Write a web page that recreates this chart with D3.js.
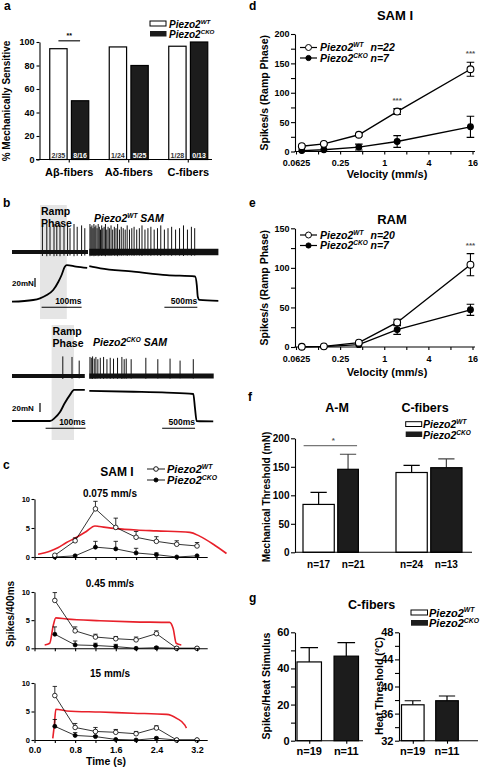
<!DOCTYPE html>
<html>
<head>
<meta charset="utf-8">
<script src="https://cdn.jsdelivr.net/npm/d3@7/dist/d3.min.js"></script>
<style>
html,body{margin:0;padding:0;background:#fff;}
svg{display:block;}
</style>
</head>
<body>
<script>
// ================= DATA =================
// panel a
const fiberTypes = ["Aβ-fibers", "Aδ-fibers", "C-fibers"];
const genotypes = ["WT", "CKO"];
const pctSensitiveWT = [94.3, 95.8, 96.4];
const pctSensitiveCKO = [50, 80, 100];
const insensitiveWT = ["2/35", "1/24", "1/28"];
const insensitiveCKO = ["8/16", "5/25", "0/13"];
const pctTicks = [0, 20, 40, 60, 80, 100];

// panel b (time in ms, force in mN, spike amplitude relative)
const wtRampPhase = [70, 137];
const wtRampSpikes = [[76,0.95],[87,1.0],[95,0.9],[105,1.0],[112,0.95],[120,1.0],[130,0.9],[139,0.95],[145,0.85],[155,1.0],[163,0.9],[174,0.95],[182,0.85]];
const wtHoldSpikes = [[10,1.0],[25,0.9],[40,0.95],[55,0.85],[70,1.0],[85,0.9],[100,0.95],[118,0.85],[135,1.0],[152,0.9],[170,0.8],[188,0.95],[205,0.85],[225,0.9],[245,1.0],[265,0.8],[285,0.9],[305,0.85],[330,0.95],[355,0.8],[380,0.9],[405,0.85],[430,1.0],[458,0.8],[485,0.9],[515,0.85],[545,0.8],[575,0.95],[610,0.8],[645,0.85],[680,0.9],[720,0.8],[760,0.85],[800,0.95],[845,0.8],[890,0.85],[935,0.9],[985,0.8],[1035,0.85],[1085,0.95],[1140,0.8],[1195,0.85],[1250,0.9],[1310,0.8],[1370,0.85],[1430,0.95],[1490,0.8],[1550,0.9],[1600,0.85]];
const wtRampForce = [[0,0],[53,3.8],[70,7.5],[87,14.9],[103,25.9],[116,44.4],[124,59.3],[132,77.8],[137,81.5],[160,78],[188,75]];
const wtHoldForce = [[0,79],[167,74],[671,67],[1177,59],[1606,56],[1632,37],[1647,11],[1671,4],[1959,2]];

const ckoRampPhase = [99, 155];
const ckoRampSpikes = [[127,0.7],[150,0.68],[168,0.55]];
const ckoHoldSpikes = [[10,0.68],[30,0.65],[50,0.7],[75,0.62],[100,0.68],[130,0.6],[167,0.65],[217,0.68],[268,0.6],[318,0.65],[368,0.62],[429,0.65],[495,0.68],[530,0.6],[561,0.62],[636,0.6],[859,0.65],[1041,0.6],[1227,0.62],[1379,0.55],[1580,0.6]];
const ckoRampForce = [[0,0],[95,0],[107,7],[120,20],[132,40],[145,58],[155,69],[182,69]];
const ckoHoldForce = [[0,67],[671,65],[1177,63],[1580,60],[1606,28],[1631,0],[1883,-1]];

// panel c (time bins in s, spikes per 400 ms)
const binTimes = [0.4, 0.8, 1.2, 1.6, 2.0, 2.4, 2.8, 3.2];
const velLabels = ["0.075 mm/s", "0.45 mm/s", "15 mm/s"];
const binWT075 = [0.3, 2.8, 8.3, 5.1, 3.4, 2.7, 2.2, 1.9];
const semWT075 = [0, 0.5, 1.3, 1.6, 1.0, 0.8, 0.6, 0.6];
const binCKO075 = [0, 0.2, 1.7, 1.4, 0.7, 0.4, 0, 0.2];
const semCKO075 = [0, 0, 1.0, 1.3, 0.8, 0.3, 0, 0];
const binWT045 = [8.5, 3.1, 2.0, 1.7, 1.5, 2.6, 0, 0];
const semWT045 = [1.4, 0.7, 0.5, 0.4, 0.5, 0.5, 0, 0];
const binCKO045 = [2.5, 0.6, 0.5, 0.3, 0, 0.1, 0, 0];
const semCKO045 = [1.3, 0.7, 0.4, 0.4, 0, 0.2, 0, 0];
const binWT15 = [7.8, 2.2, 1.5, 1.35, 1.1, 2.1, 0, 0];
const semWT15 = [1.6, 0.7, 0.7, 0.5, 0.4, 0.4, 0, 0];
const binCKO15 = [2.4, 0.8, 0.6, 0.1, 0, 0.3, 0, 0];
const semCKO15 = [1.2, 0.5, 0.2, 0, 0, 0.2, 0, 0];
const stim075 = [[0.07,0.47],[0.3,1.0],[0.46,1.6],[0.63,2.5],[0.83,3.4],[1.02,4.4],[1.19,5.35],[1.28,5.25],[1.61,4.9],[2.01,4.65],[2.4,4.5],[3.06,4.25],[3.25,3.6],[3.52,2.2],[3.78,0.6]];
const stim045 = [[0.2,0.6],[0.3,0.9],[0.37,4.1],[0.42,5.4],[0.63,5.2],[1.29,4.9],[1.94,4.7],[2.66,4.6],[2.73,3.5],[2.79,0.9],[2.89,0.6]];
const stim15 = [[0.36,0.3],[0.39,2.6],[0.42,5.4],[0.63,5.1],[1.29,4.9],[1.94,4.7],[2.6,4.5],[2.8,3.8],[2.96,2.6],[2.99,2.1]];
const binTicksY = [0, 5, 10];
const timeTicks = [0, 0.4, 0.8, 1.2, 1.6, 2.0, 2.4, 2.8, 3.2];
const timeLabels = [0, 0.8, 1.6, 2.4, 3.2];

// panels d, e (velocity mm/s, spikes/s)
const velocities = [0.075, 0.15, 0.45, 1.5, 15];
const samWT = [9, 13, 28.5, 68, 140];
const samWTsem = [1.5, 1.5, 2, 5, 12];
const samCKO = [1.5, 3, 7.5, 17, 42];
const samCKOsem = [0.5, 1, 5, 10, 18];
const ramWT = [0.3, 0.8, 5.5, 31, 104];
const ramWTsem = [0.3, 0.5, 1, 4, 14];
const ramCKO = [0.2, 0.5, 3, 22, 47];
const ramCKOsem = [0.2, 0.4, 1, 6, 7];
const velTicks = [0.0625, 0.125, 0.25, 0.5, 1, 2, 4, 8, 16];
const velTickLabels = [0.0625, 0.25, 1, 4, 16];
const samTicks = [0, 25, 50, 75, 100, 125, 150, 175, 200];
const ramTicks = [0, 25, 50, 75, 100, 125, 150];

// panel f
const thrGroups = ["A-M", "C-fibers"];
const thrWT = [84, 140];
const thrWTsem = [21, 12.6];
const thrCKO = [145.6, 148.4];
const thrCKOsem = [26.4, 15.6];
const thrNWT = ["n=17", "n=24"];
const thrNCKO = ["n=21", "n=13"];
const thrTicks = [0, 50, 100, 150, 200];

// panel g
const heatSpikes = [43.6, 46.8];
const heatSpikesSem = [7.9, 7.5];
const heatThr = [37.3, 37.9];
const heatThrSem = [0.6, 0.7];
const heatN = ["n=19", "n=11"];
const heatSpikeTicks = [0, 10, 20, 30, 40, 50, 60];
const heatThrTicks = [32, 34, 36, 38, 40, 42, 44, 46, 48];

// ================= DRAWING =================
const FONT = "'Liberation Sans', Arial, Helvetica, sans-serif";
const svg = d3.select("body").append("svg")
  .attr("width", 480).attr("height", 770)
  .attr("font-family", FONT);
svg.append("rect").attr("width", 480).attr("height", 770).attr("fill", "#fff");

function label(x, y, text, size, o = {}) {
  const t = svg.append("text").attr("x", x).attr("y", y)
    .attr("font-size", size).attr("font-weight", o.weight || "bold")
    .attr("text-anchor", o.anchor || "start").attr("fill", o.fill || "#000");
  if (o.rotate) t.attr("transform", `rotate(-90,${x},${y})`);
  if (o.italic) t.attr("font-style", "italic");
  t.text(text);
  return t;
}
function geno(x, y, sup, size, o = {}) {
  const t = svg.append("text").attr("x", x).attr("y", y)
    .attr("font-size", size).attr("font-weight", "bold").attr("font-style", "italic")
    .attr("text-anchor", o.anchor || "start").attr("fill", "#000");
  t.append("tspan").text("Piezo2");
  t.append("tspan").attr("font-size", size * 0.62).attr("dy", -size * 0.38).text(sup);
  if (o.extra) t.append("tspan").attr("dy", size * 0.38).text(o.extra);
  return t;
}
function styleAxis(g, fs) {
  g.attr("font-family", FONT).attr("font-size", fs).attr("font-weight", "bold");
  g.selectAll("path.domain").attr("stroke", "#000").attr("stroke-width", 1.1);
  g.selectAll(".tick line").attr("stroke", "#000").attr("stroke-width", 1.1);
  g.selectAll(".tick text").attr("fill", "#000");
  return g;
}

// ---------- panel letters ----------
label(4, 10, "a", 12);
label(3, 207, "b", 12);
label(3, 469, "c", 12);
label(249, 10, "d", 12);
label(249, 207, "e", 12);
label(248, 401, "f", 12);
label(249, 602, "g", 12);

// ---------- panel a ----------
{
  const x = d3.scaleBand().domain(fiberTypes).range([39.5, 218]);
  const xin = d3.scaleBand().domain(genotypes).range([-19.5, 19.5]).paddingInner(0.2);
  const y = d3.scaleLinear().domain([0, 100]).range([159.5, 42]);
  const rows = fiberTypes.flatMap((f, i) => [
    { f, g: "WT", v: pctSensitiveWT[i], lab: insensitiveWT[i] },
    { f, g: "CKO", v: pctSensitiveCKO[i], lab: insensitiveCKO[i] }]);
  const bx = d => x(d.f) + x.bandwidth() / 2 + xin(d.g);
  svg.append("g").selectAll("rect").data(rows).join("rect")
    .attr("x", bx).attr("y", d => y(d.v))
    .attr("width", xin.bandwidth()).attr("height", d => y(0) - y(d.v))
    .attr("fill", d => d.g === "WT" ? "#fff" : "#1c1c1c")
    .attr("stroke", "#000").attr("stroke-width", 1.2);
  svg.append("g").selectAll("text").data(rows).join("text")
    .attr("x", d => bx(d) + xin.bandwidth() / 2).attr("y", 157.5)
    .attr("text-anchor", "middle").attr("font-size", 7).attr("font-weight", "bold")
    .attr("fill", d => d.g === "WT" ? "#333" : "#fff").text(d => d.lab);
  const ya = svg.append("g").attr("transform", `translate(${x.range()[0]},0)`)
    .call(d3.axisLeft(y).tickValues(pctTicks).tickSize(3).tickPadding(2).tickSizeOuter(0));
  styleAxis(ya, 9);
  const xa = svg.append("g").attr("transform", `translate(0,${y(0)})`)
    .call(d3.axisBottom(x).tickSize(3).tickPadding(6).tickSizeOuter(0));
  styleAxis(xa, 11);
  xa.select("path.domain").attr("d", "M36,0H212");
  label(10, 101, "% Mechanically Sensitive", 10, { anchor: "middle", rotate: true });
  // significance
  const c1 = bx(rows[0]) + xin.bandwidth() / 2, c2 = bx(rows[1]) + xin.bandwidth() / 2;
  svg.append("line").attr("x1", c1).attr("x2", c2).attr("y1", y(101)).attr("y2", y(101))
    .attr("stroke", "#000").attr("stroke-width", 1.1);
  label((c1 + c2) / 2, y(101) - 3, "**", 7, { anchor: "middle" });
  // legend
  svg.append("rect").attr("x", 150).attr("y", 21).attr("width", 16).attr("height", 5)
    .attr("fill", "#fff").attr("stroke", "#000").attr("stroke-width", 1);
  svg.append("rect").attr("x", 150).attr("y", 31).attr("width", 16.5).attr("height", 5.5).attr("fill", "#1c1c1c");
  geno(169, 27.5, "WT", 10);
  geno(169, 38, "CKO", 10);
}

// ---------- panel b ----------
function drawTrace(o) {
  const g = svg.append("g");
  const amp = d3.scaleLinear().domain([0, 1]).range([0, 28]);
  g.append("rect").attr("x", o.xL(o.ramp[0])).attr("width", o.xL(o.ramp[1]) - o.xL(o.ramp[0]))
    .attr("y", o.shadeTop).attr("height", o.shadeBottom - o.shadeTop).attr("fill", "#e5e5e5");
  [[o.xL, o.noiseL], [o.xR, o.noiseR]].forEach(([sc, w]) => {
    g.append("line").attr("x1", sc.range()[0]).attr("x2", sc.range()[1])
      .attr("y1", o.base).attr("y2", o.base).attr("stroke", "#111").attr("stroke-width", w);
  });
  [[o.xL, o.rampSpikes], [o.xR, o.holdSpikes]].forEach(([sc, sp]) => {
    g.append("g").selectAll("line").data(sp).join("line")
      .attr("x1", d => sc(d[0])).attr("x2", d => sc(d[0]))
      .attr("y1", d => o.base + amp(d[1]) * 0.15).attr("y2", d => o.base - amp(d[1]))
      .attr("stroke", "#111").attr("stroke-width", 1);
  });
  [[o.xL, o.rampForce], [o.xR, o.holdForce]].forEach(([sc, f]) => {
    const ln = d3.line().x(d => sc(d[0])).y(d => o.yF(d[1])).curve(d3.curveMonotoneX);
    g.append("path").attr("d", ln(f)).attr("fill", "none").attr("stroke", "#000").attr("stroke-width", 1.8);
  });
  // 20 mN scale bar
  g.append("line").attr("x1", o.mNx).attr("x2", o.mNx).attr("y1", o.mNy).attr("y2", o.mNy - (o.yF(0) - o.yF(20)))
    .attr("stroke", "#000").attr("stroke-width", 1.2);
  label(12, o.mNy - 1.5, "20mN", 8);
  // time scale bars
  const sb = (sc, t0, len, txt) => {
    g.append("line").attr("x1", sc(t0)).attr("x2", sc(t0 + len)).attr("y1", o.sbY).attr("y2", o.sbY)
      .attr("stroke", "#000").attr("stroke-width", 1.1);
    label(sc(t0 + len), o.sbY - 3, txt, 8.5, { anchor: "end" });
  };
  sb(o.xL, o.sbL, 100, "100ms");
  sb(o.xR, o.sbR, 500, "500ms");
  label(o.xL(o.ramp[0]) + 1, o.shadeTop + 10, "Ramp", 10.5);
  label(o.xL(o.ramp[0]) + 1, o.shadeTop + 21.5, "Phase", 10.5);
}
{
  const xL = d3.scaleLinear().domain([0, 190]).range([12, 88]);
  const xR = d3.scaleLinear().domain([0, 1960]).range([89.3, 218.4]);
  const yF = d3.scaleLinear().domain([0, 80]).range([301.7, 265.7]);
  drawTrace({ xL, xR, yF, base: 252, ramp: wtRampPhase, shadeTop: 205, shadeBottom: 319,
    rampSpikes: wtRampSpikes, holdSpikes: wtHoldSpikes, rampForce: wtRampForce, holdForce: wtHoldForce,
    noiseL: 4, noiseR: 6.5, mNx: 35, mNy: 287, sbY: 307.3, sbL: 74, sbR: 1140 });
  geno(94, 222, "WT", 10.5, { extra: " SAM" });
}
{
  const xL = d3.scaleLinear().domain([0, 182]).range([12, 84.8]);
  const xR = d3.scaleLinear().domain([0, 1890]).range([89.3, 213.7]);
  const yF = d3.scaleLinear().domain([0, 80]).range([421, 385]);
  drawTrace({ xL, xR, yF, base: 376, ramp: ckoRampPhase, shadeTop: 325, shadeBottom: 440,
    rampSpikes: ckoRampSpikes, holdSpikes: ckoHoldSpikes, rampForce: ckoRampForce, holdForce: ckoHoldForce,
    noiseL: 4, noiseR: 5, mNx: 40, mNy: 412, sbY: 428.3, sbL: 84, sbR: 1107 });
  geno(93, 346, "CKO", 10.5, { extra: " SAM" });
}

// ---------- panel c ----------
{
  const x = d3.scaleLinear().domain([0, 3.4]).range([34.5, 207.2]);
  const subs = [
    { y0: 557, y10: 499, title: velLabels[0], ty: 497, wt: binWT075, wts: semWT075, ko: binCKO075, kos: semCKO075, stim: stim075 },
    { y0: 648.3, y10: 592, title: velLabels[1], ty: 587, wt: binWT045, wts: semWT045, ko: binCKO045, kos: semCKO045, stim: stim045 },
    { y0: 740, y10: 683, title: velLabels[2], ty: 677, wt: binWT15, wts: semWT15, ko: binCKO15, kos: semCKO15, stim: stim15 }];
  subs.forEach((s, k) => {
    const y = d3.scaleLinear().domain([0, 10]).range([s.y0, s.y10]);
    const g = svg.append("g");
    g.append("path").attr("d", d3.line().x(d => x(d[0])).y(d => y(d[1])).curve(d3.curveMonotoneX)(s.stim))
      .attr("fill", "none").attr("stroke", "#e8202a").attr("stroke-width", 1.6);
    const ya = svg.append("g").attr("transform", `translate(${x(0)},0)`)
      .call(d3.axisLeft(y).tickValues(binTicksY).tickSize(3).tickPadding(1.5).tickSizeOuter(0));
    styleAxis(ya, 7.5);
    const xa = svg.append("g").attr("transform", `translate(0,${s.y0})`)
      .call(d3.axisBottom(x).tickValues(timeTicks)
        .tickFormat(v => (k === 2 && timeLabels.some(l => Math.abs(l - v) < 1e-6)) ? d3.format(".1f")(v) : "")
        .tickSize(3).tickPadding(3.6).tickSizeOuter(0));
    styleAxis(xa, 9);
    [[s.ko, s.kos, false], [s.wt, s.wts, true]].forEach(([vals, sem, open]) => {
      const pts = binTimes.map((t, i) => [t, vals[i], sem[i]]);
      g.append("path").attr("d", d3.line().x(d => x(d[0])).y(d => y(d[1]))(pts))
        .attr("fill", "none").attr("stroke", "#000").attr("stroke-width", 0.8);
      const eb = pts.filter(d => d[2] > 0);
      g.append("g").selectAll("path").data(eb).join("path")
        .attr("d", d => `M${x(d[0])},${y(d[1])}V${y(d[1] + d[2])}M${x(d[0]) - 2.2},${y(d[1] + d[2])}H${x(d[0]) + 2.2}`)
        .attr("stroke", "#000").attr("stroke-width", 0.8).attr("fill", "none");
      g.append("g").selectAll("circle").data(pts).join("circle")
        .attr("cx", d => x(d[0])).attr("cy", d => y(d[1])).attr("r", open ? 2.3 : 2)
        .attr("fill", open ? "#fff" : "#000").attr("stroke", "#000").attr("stroke-width", 0.8);
    });
    label(110, s.ty, s.title, 10, { anchor: "middle" });
  });
  label(117, 476, "SAM I", 12, { anchor: "middle" });
  // legend
  [[469, true, "WT"], [480, false, "CKO"]].forEach(([ly, open, sup]) => {
    svg.append("line").attr("x1", 147).attr("x2", 165).attr("y1", ly).attr("y2", ly)
      .attr("stroke", "#000").attr("stroke-width", 0.9);
    svg.append("circle").attr("cx", 156).attr("cy", ly).attr("r", open ? 2.3 : 2)
      .attr("fill", open ? "#fff" : "#000").attr("stroke", "#000").attr("stroke-width", 0.9);
    geno(167, ly + 4, sup, 11);
  });
  label(106, 765, "Time (s)", 10.5, { anchor: "middle" });
  label(14, 614, "Spikes/400ms", 10, { anchor: "middle", rotate: true });
}

// ---------- panels d, e ----------
function drawVel(o) {
  const x = d3.scaleLog().base(2).domain([0.0625, 16]).range([296, 472.5]);
  const y = d3.scaleLinear().domain([0, o.max]).range([o.y0, o.yTop]);
  const ya = svg.append("g").attr("transform", `translate(295,0)`)
    .call(d3.axisLeft(y).tickValues(o.ticks).tickFormat(v => v % 50 === 0 ? v : "")
      .tickSize(4).tickPadding(1.5).tickSizeOuter(0));
  styleAxis(ya, 9);
  const xa = svg.append("g").attr("transform", `translate(0,${o.y0})`)
    .call(d3.axisBottom(x).tickValues(velTicks)
      .tickFormat(v => velTickLabels.includes(v) ? String(v) : "")
      .tickSize(3).tickPadding(o.xpad).tickSizeOuter(0));
  styleAxis(xa, 9);
  xa.select("path.domain").attr("d", "M294.5,0H475");
  const g = svg.append("g");
  [[o.ko, o.kos, false], [o.wt, o.wts, true]].forEach(([vals, sem, open]) => {
    const pts = velocities.map((v, i) => [v, vals[i], sem[i]]);
    g.append("path").attr("d", d3.line().x(d => x(d[0])).y(d => y(d[1]))(pts))
      .attr("fill", "none").attr("stroke", "#000").attr("stroke-width", 1.4);
    g.append("g").selectAll("path").data(pts.filter(d => d[2] > 1)).join("path")
      .attr("d", d => {
        const cx = x(d[0]), t = y(d[1] + d[2]), b = y(Math.max(0, d[1] - d[2]));
        return `M${cx},${b}V${t}M${cx - 3.8},${t}H${cx + 3.8}M${cx - 3.8},${b}H${cx + 3.8}`;
      })
      .attr("stroke", "#000").attr("stroke-width", 1.1).attr("fill", "none");
    g.append("g").selectAll("circle").data(pts).join("circle")
      .attr("cx", d => x(d[0])).attr("cy", d => y(d[1])).attr("r", open ? 3.4 : 2.9)
      .attr("fill", open ? "#fff" : "#000").attr("stroke", "#000").attr("stroke-width", 1.1);
    if (open) {
      o.stars.forEach(i => label(x(velocities[i]), y(vals[i] + sem[i]) - 6, "***", 8, { anchor: "middle", fill: "#555" }));
    }
  });
  // legend
  [[o.legY, true, "WT", o.nWT], [o.legY + 10.5, false, "CKO", o.nCKO]].forEach(([ly, open, sup, n]) => {
    svg.append("line").attr("x1", 300).attr("x2", 317).attr("y1", ly).attr("y2", ly)
      .attr("stroke", "#000").attr("stroke-width", 1.2);
    svg.append("circle").attr("cx", 308.5).attr("cy", ly).attr("r", open ? 3 : 2.6)
      .attr("fill", open ? "#fff" : "#000").attr("stroke", "#000").attr("stroke-width", 1);
    geno(320, ly + 3.8, sup, 10.5);
    label(370.5, ly + 3.8, n, 10.5, { italic: true });
  });
  label(387, o.xlabY, "Velocity (mm/s)", 11, { anchor: "middle" });
  label(268, (o.y0 + o.yTop) / 2, "Spikes/s (Ramp Phase)", 10.5, { anchor: "middle", rotate: true });
  label(o.titleX, o.titleY, o.title, 13, { anchor: "middle" });
}
drawVel({ max: 200, y0: 151.5, yTop: 34, ticks: samTicks, wt: samWT, wts: samWTsem, ko: samCKO, kos: samCKOsem,
  stars: [3, 4], legY: 47.5, nWT: "n=22", nCKO: "n=7", xpad: 5, xlabY: 178, title: "SAM I", titleX: 395, titleY: 20 });
drawVel({ max: 150, y0: 347, yTop: 228.3, ticks: ramTicks, wt: ramWT, wts: ramWTsem, ko: ramCKO, kos: ramCKOsem,
  stars: [4], legY: 235, nWT: "n=20", nCKO: "n=7", xpad: 5.5, xlabY: 376, title: "RAM", titleX: 392, titleY: 224 });

// ---------- panel f ----------
{
  const x = d3.scaleBand().domain(thrGroups).range([289.5, 475.5]);
  const xin = d3.scaleBand().domain(genotypes).range([-33, 33]).paddingInner(0.1);
  const y = d3.scaleLinear().domain([0, 200]).range([552.3, 438.3]);
  const rows = thrGroups.flatMap((gname, i) => [
    { gname, g: "WT", v: thrWT[i], s: thrWTsem[i], n: thrNWT[i] },
    { gname, g: "CKO", v: thrCKO[i], s: thrCKOsem[i], n: thrNCKO[i] }]);
  // the A-M knockout bar is drawn narrower in the original figure
  const bwOf = d => (d.gname === "A-M" && d.g === "CKO") ? xin.bandwidth() * 0.66 : xin.bandwidth();
  const bx = d => x(d.gname) + x.bandwidth() / 2 + xin(d.g);
  const g = svg.append("g");
  g.selectAll("path.err").data(rows).join("path")
    .attr("d", d => { const bw = bwOf(d), cx = bx(d) + bw / 2, t = y(d.v + d.s), cw = xin.bandwidth() * 0.26;
      return `M${cx},${y(d.v)}V${t}M${cx - cw},${t}H${cx + cw}`; })
    .attr("stroke", d => d.g === "WT" ? "#000" : "#444").attr("stroke-width", 1.2).attr("fill", "none");
  g.selectAll("rect").data(rows).join("rect")
    .attr("x", bx).attr("y", d => y(d.v)).attr("width", bwOf).attr("height", d => y(0) - y(d.v))
    .attr("fill", d => d.g === "WT" ? "#fff" : "#1c1c1c").attr("stroke", "#000").attr("stroke-width", 1.2);
  g.selectAll("text").data(rows).join("text")
    .attr("x", d => bx(d) + xin.bandwidth() / 2).attr("y", 568).attr("text-anchor", "middle")
    .attr("font-size", 10).attr("font-weight", "bold").text(d => d.n);
  const ya = svg.append("g").attr("transform", "translate(295,0)")
    .call(d3.axisLeft(y).tickValues(thrTicks).tickSize(4).tickPadding(1.5).tickSizeOuter(0));
  styleAxis(ya, 10);
  svg.append("line").attr("x1", 295).attr("x2", 472).attr("y1", y(0)).attr("y2", y(0))
    .attr("stroke", "#000").attr("stroke-width", 1.1);
  const c1 = bx(rows[0]) + bwOf(rows[0]) / 2, c2 = bx(rows[1]) + bwOf(rows[1]) / 2;
  svg.append("line").attr("x1", c1 - 15).attr("x2", c2 + 9).attr("y1", y(187)).attr("y2", y(187))
    .attr("stroke", "#555").attr("stroke-width", 1);
  label((c1 + c2) / 2, y(187) - 2.5, "*", 8, { anchor: "middle", fill: "#555" });
  label(270, 497, "Mechanical Threshold (mN)", 10, { anchor: "middle", rotate: true });
  label(337, 411.5, thrGroups[0], 12.5, { anchor: "middle" });
  label(425, 411.5, thrGroups[1], 12.5, { anchor: "middle" });
  svg.append("rect").attr("x", 405.7).attr("y", 421.7).attr("width", 16).attr("height", 4.8)
    .attr("fill", "#fff").attr("stroke", "#000").attr("stroke-width", 1);
  svg.append("rect").attr("x", 405.7).attr("y", 431.5).attr("width", 16.5).attr("height", 5.5).attr("fill", "#1c1c1c");
  geno(423, 428, "WT", 10.5);
  geno(423, 438.8, "CKO", 10.5);
}

// ---------- panel g ----------
{
  const drawHeat = (range, yDom, ticks, labelEvery, vals, sems, axX, axEnd, ylab, ylabX) => {
    const x = d3.scaleBand().domain(genotypes).range(range).paddingInner(0.34);
    const y = d3.scaleLinear().domain(yDom).range([740.7, 632.3]);
    const bw = x.bandwidth();
    const rows = genotypes.map((gn, i) => ({ g: gn, v: vals[i], s: sems[i], n: heatN[i] }));
    const g = svg.append("g");
    g.selectAll("path").data(rows).join("path")
      .attr("d", d => { const cx = x(d.g) + bw / 2, t = y(d.v + d.s);
        return `M${cx},${y(d.v)}V${t}M${cx - bw * 0.36},${t}H${cx + bw * 0.36}`; })
      .attr("stroke", "#000").attr("stroke-width", 1.2).attr("fill", "none");
    g.selectAll("rect").data(rows).join("rect")
      .attr("x", d => x(d.g)).attr("y", d => y(d.v)).attr("width", bw).attr("height", d => y(yDom[0]) - y(d.v))
      .attr("fill", d => d.g === "WT" ? "#fff" : "#1c1c1c").attr("stroke", "#000").attr("stroke-width", 1.2);
    g.selectAll("text").data(rows).join("text")
      .attr("x", d => x(d.g) + bw / 2).attr("y", 755).attr("text-anchor", "middle")
      .attr("font-size", 11).attr("font-weight", "bold").text(d => d.n);
    const ya = svg.append("g").attr("transform", `translate(${axX},0)`)
      .call(d3.axisLeft(y).tickValues(ticks).tickFormat(v => (v - yDom[0]) % labelEvery === 0 ? v : "")
        .tickSize(4).tickPadding(1.5).tickSizeOuter(0));
    styleAxis(ya, 11);
    const xa = svg.append("g").attr("transform", `translate(0,${y(yDom[0])})`)
      .call(d3.axisBottom(d3.scalePoint().domain(genotypes).range([x("WT") + bw / 2, x("CKO") + bw / 2]))
        .tickSize(3).tickFormat("").tickSizeOuter(0));
    styleAxis(xa, 10);
    xa.select("path.domain").attr("d", `M${axX},0H${axEnd}`);
    label(ylabX, 686, ylab, 10.5, { anchor: "middle", rotate: true });
  };
  drawHeat([297, 358.5], [0, 60], heatSpikeTicks, 20, heatSpikes, heatSpikesSem, 295, 363, "Spikes/Heat Stimulus", 270);
  drawHeat([401.5, 458.3], [32, 48], heatThrTicks, 4, heatThr, heatThrSem, 399, 478, "Heat Threshold (°C)", 383);
  label(371.7, 609, "C-fibers", 12.5, { anchor: "middle" });
  svg.append("rect").attr("x", 411).attr("y", 610).attr("width", 16.5).attr("height", 5)
    .attr("fill", "#fff").attr("stroke", "#000").attr("stroke-width", 1);
  svg.append("rect").attr("x", 411).attr("y", 620).attr("width", 17).attr("height", 5.7).attr("fill", "#1c1c1c");
  geno(429, 616.5, "WT", 11);
  geno(429, 627, "CKO", 11);
}
</script>
</body>
</html>
